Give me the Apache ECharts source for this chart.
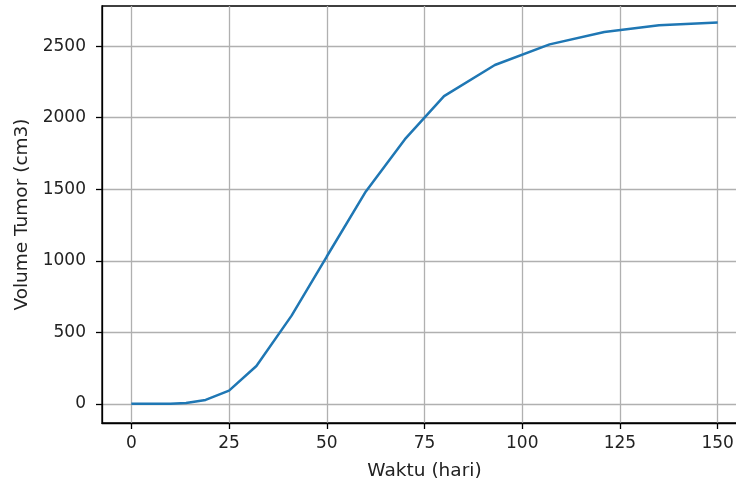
<!DOCTYPE html>
<html>
<head>
<meta charset="utf-8">
<script src="https://cdn.jsdelivr.net/npm/echarts@6/dist/echarts.min.js"></script>
<style>
  html, body { margin: 0; padding: 0; background: #fff; overflow: hidden; }
  #chart { width: 736px; height: 483px; }
</style>
</head>
<body>
<div id="chart"></div>
<script>
// Simulated tumour volume over time (solver output steps)
const waktu = [0, 5, 10, 14, 19, 25, 32, 41, 50, 60, 70, 80, 93, 107, 121, 135, 150];
const volume = [1, 1, 2, 6, 28, 93, 265, 617, 1030, 1485, 1850, 2150, 2368, 2512, 2598, 2645, 2664];

const xTicks = [0, 25, 50, 75, 100, 125, 150];
const yTicks = [0, 500, 1000, 1500, 2000, 2500];

const font = 'DejaVu Sans';
const chart = echarts.init(document.getElementById('chart'), null, { renderer: 'canvas' });

chart.setOption({
  animation: false,
  backgroundColor: '#fff',
  grid: {
    left: 102, top: 6, width: 645, height: 417,
    outerBoundsMode: 'none',
    containLabel: false,
    show: true, borderColor: '#000', borderWidth: 1.3, backgroundColor: 'transparent'
  },
  xAxis: {
    type: 'value',
    min: -7.5, max: 157.5,
    name: 'Waktu (hari)',
    nameLocation: 'middle',
    nameGap: 39,
    nameTextStyle: { fontFamily: font, fontSize: 18.5, color: '#222' },
    axisLine: { show: true, onZero: false, lineStyle: { color: '#000', width: 1.3 } },
    axisTick: { show: true, length: 6, lineStyle: { color: '#000', width: 1.3 }, customValues: xTicks },
    axisLabel: { fontFamily: font, fontSize: 17, color: '#222', margin: 12, customValues: xTicks,
                 formatter: v => String(v) },
    splitLine: { show: true, lineStyle: { color: '#b0b0b0', width: 1.3 } }
  },
  yAxis: {
    type: 'value',
    min: -133, max: 2780,
    name: 'Volume Tumor (cm3)',
    nameLocation: 'middle',
    nameGap: 70,
    nameTextStyle: { fontFamily: font, fontSize: 18.5, color: '#222' },
    axisLine: { show: true, onZero: false, lineStyle: { color: '#000', width: 1.3 } },
    axisTick: { show: true, length: 6, lineStyle: { color: '#000', width: 1.3 }, customValues: yTicks },
    axisLabel: { fontFamily: font, fontSize: 17, color: '#222', margin: 16, customValues: yTicks,
                 formatter: v => String(v) },
    splitLine: { show: true, lineStyle: { color: '#b0b0b0', width: 1.3 } }
  },
  series: [{
    type: 'line',
    data: waktu.map((t, i) => [t, volume[i]]),
    showSymbol: false,
    smooth: false,
    lineStyle: { color: '#1f77b4', width: 2.5 },
    clip: true
  }]
});
</script>
</body>
</html>
